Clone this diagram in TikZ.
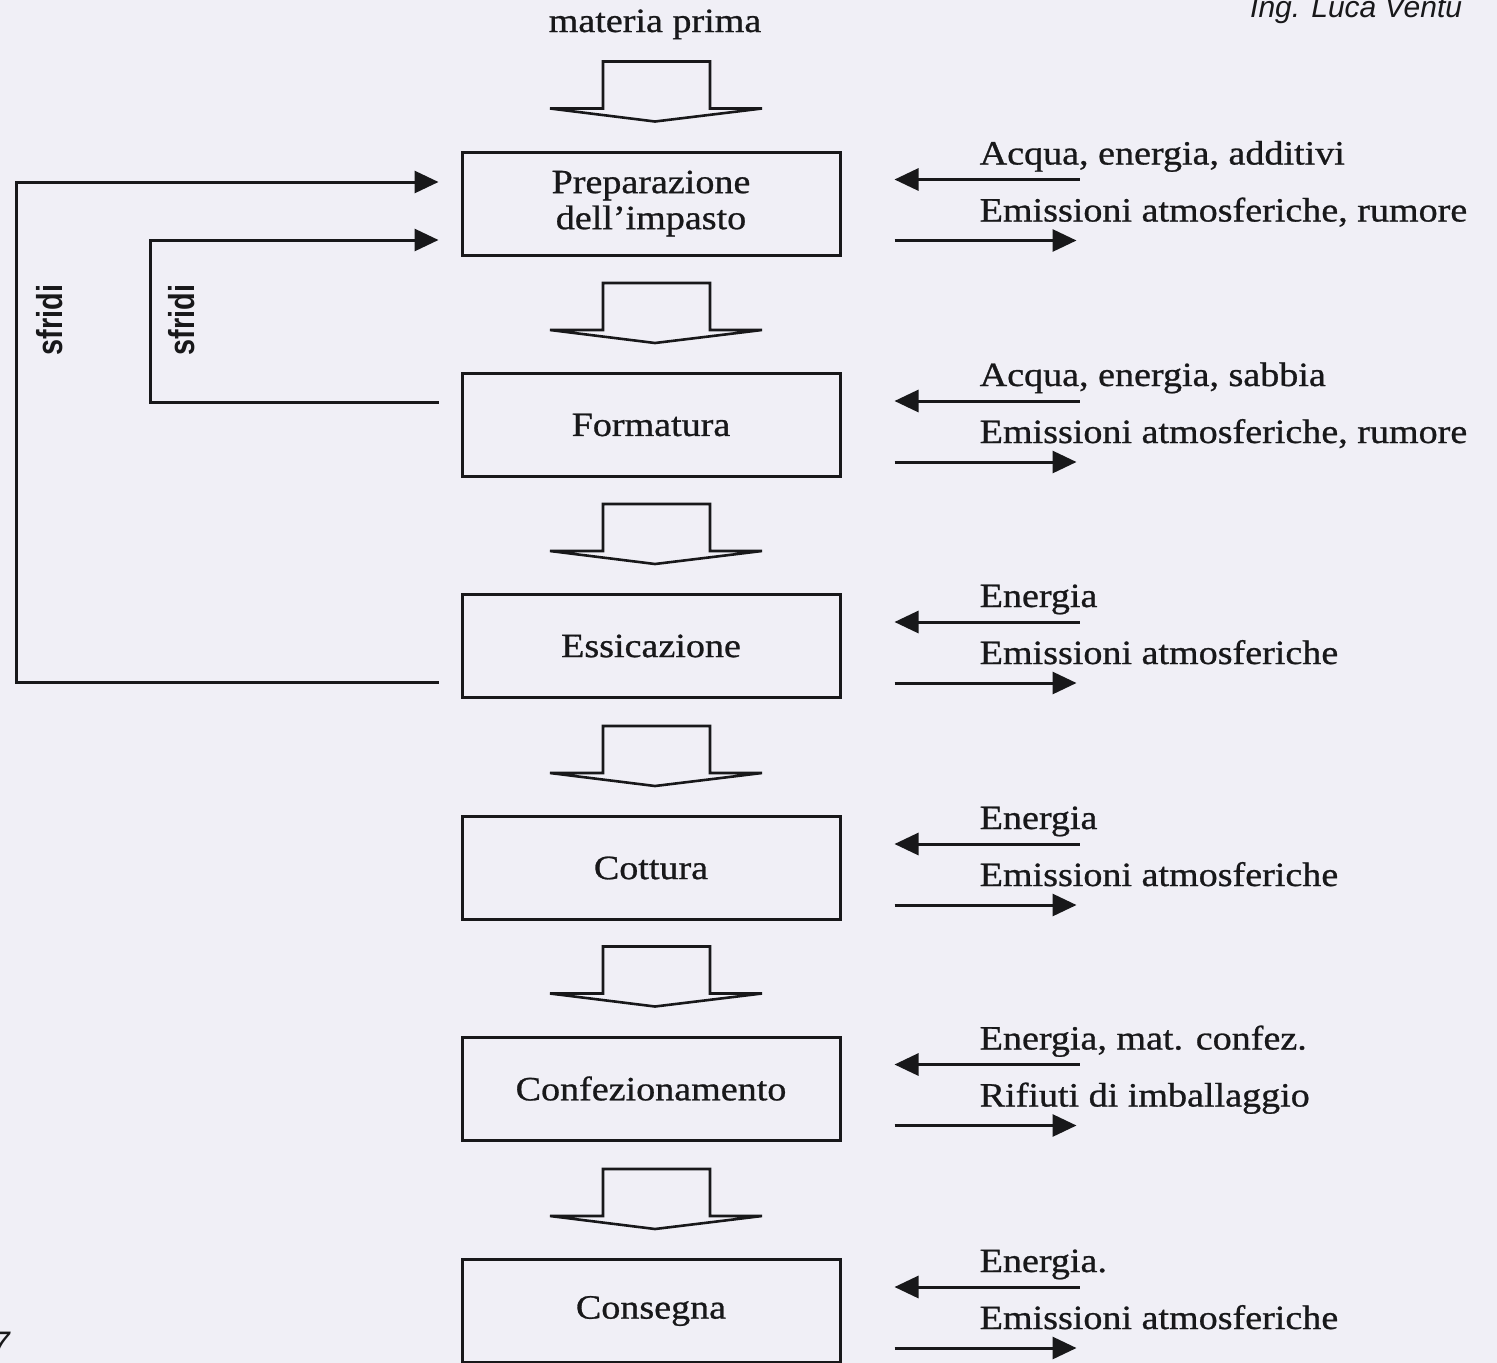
\documentclass[tikz,border=0pt]{standalone}
\usepackage{fontspec}
\setmainfont{Liberation Serif}[FakeStretch=1.12,FakeBold=0.8]
\newfontfamily\sfrfont{Liberation Sans}[FakeStretch=0.8]
\newfontfamily\sigfont{Liberation Sans}
\usetikzlibrary{arrows.meta}
\definecolor{bg}{RGB}{240,239,246}
\definecolor{ink}{RGB}{24,24,26}
\tikzset{
  box/.style={draw=ink, line width=3pt, minimum width=378pt, minimum height=103pt,
    inner sep=0pt, align=center, text=ink, font=\fontsize{34}{36}\selectfont},
  rtxt/.style={anchor=base west, inner sep=0pt, text=ink, font=\fontsize{34}{36}\selectfont},
  sarr/.style={draw=ink, line width=3pt, -{Triangle[length=24pt,width=22pt]}},
  fb/.style={draw=ink, line width=3pt, -{Triangle[length=24pt,width=22pt]}},
  sfr/.style={inner sep=0pt, text=ink, font=\sfrfont\bfseries\fontsize{36}{36}\selectfont, rotate=90},
  downarr/.pic={\draw[draw=ink, line width=2.6pt, line join=miter]
     (-105,-13) -- (-52,-13) -- (-52,-60) -- (55,-60) -- (55,-13) -- (107,-13) -- (0,0) -- cycle;}
}
\newcommand{\sidepair}[3]{%
  \draw[sarr] ([shift={(238,29)}]#1.north east) -- ([shift={(53,29)}]#1.north east);
  \draw[sarr] ([shift={(53,90)}]#1.north east) -- ([shift={(235,90)}]#1.north east);
  \node[rtxt] (#1in) at ([shift={(138,14)}]#1.north east) {#2};
  \node[rtxt] (#1out) at ([shift={(138,71)}]#1.north east) {#3};
}
\begin{document}
\begin{tikzpicture}[x=1pt,y=-1pt]
\fill[bg] (0,0) rectangle (1497,1363);
\useasboundingbox (0,0) rectangle (1497,1363);

% header texts
\node[anchor=base, inner sep=0pt, text=ink, font=\fontsize{34}{36}\selectfont] (mp) at (655,32) {materia prima};
\begin{scope}
\clip (0,0) rectangle (1497,1363);
\node[anchor=base west, inner sep=0pt, text=ink, font=\sigfont\itshape\fontsize{30}{30}\selectfont] (sig) at (1250,17) {Ing. Luca Ventu};
\node[anchor=base east, inner sep=0pt, text=ink, font=\sigfont\itshape\fontsize{34}{34}\selectfont] (pg) at (10,1355) {7};
\end{scope}

% process boxes
\node[box] (b1) at (651,203.5) {\raisebox{-3pt}{\parbox{300pt}{\centering Preparazione\\dell’impasto}}};
\node[box] (b2) at (651,425) {Formatura};
\node[box] (b3) at (651,646) {Essicazione};
\node[box] (b4) at (651,868) {Cottura};
\node[box] (b5) at (651,1088.5) {Confezionamento};
\node[box] (b6) at (651,1311) {Consegna};

% block arrows
\pic at ([xshift=4pt,yshift=29pt]b1.north) {downarr};
\pic at ([xshift=4pt,yshift=29pt]b2.north) {downarr};
\pic at ([xshift=4pt,yshift=29pt]b3.north) {downarr};
\pic at ([xshift=4pt,yshift=29pt]b4.north) {downarr};
\pic at ([xshift=4pt,yshift=29pt]b5.north) {downarr};
\pic at ([xshift=4pt,yshift=29pt]b6.north) {downarr};

% inputs / outputs
\sidepair{b1}{Acqua, energia, additivi}{Emissioni atmosferiche, rumore}
\sidepair{b2}{Acqua, energia, sabbia}{Emissioni atmosferiche, rumore}
\sidepair{b3}{Energia}{Emissioni atmosferiche}
\sidepair{b4}{Energia}{Emissioni atmosferiche}
\sidepair{b5}{Energia, mat. confez.}{Rifiuti di imballaggio}
\sidepair{b6}{Energia.}{Emissioni atmosferiche}

% recycling loops
\draw[fb] ([shift={(-22,36)}]b3.west) -- ++(-422,0) |- ([shift={(-22,-21.5)}]b1.west);
\draw[fb] ([shift={(-22,-23)}]b2.west) -- ++(-288,0) |- ([shift={(-22,36.5)}]b1.west);
\node[sfr] (s1) at (50,320) {sfridi};
\node[sfr] (s2) at (182,320) {sfridi};
\end{tikzpicture}
\end{document}
